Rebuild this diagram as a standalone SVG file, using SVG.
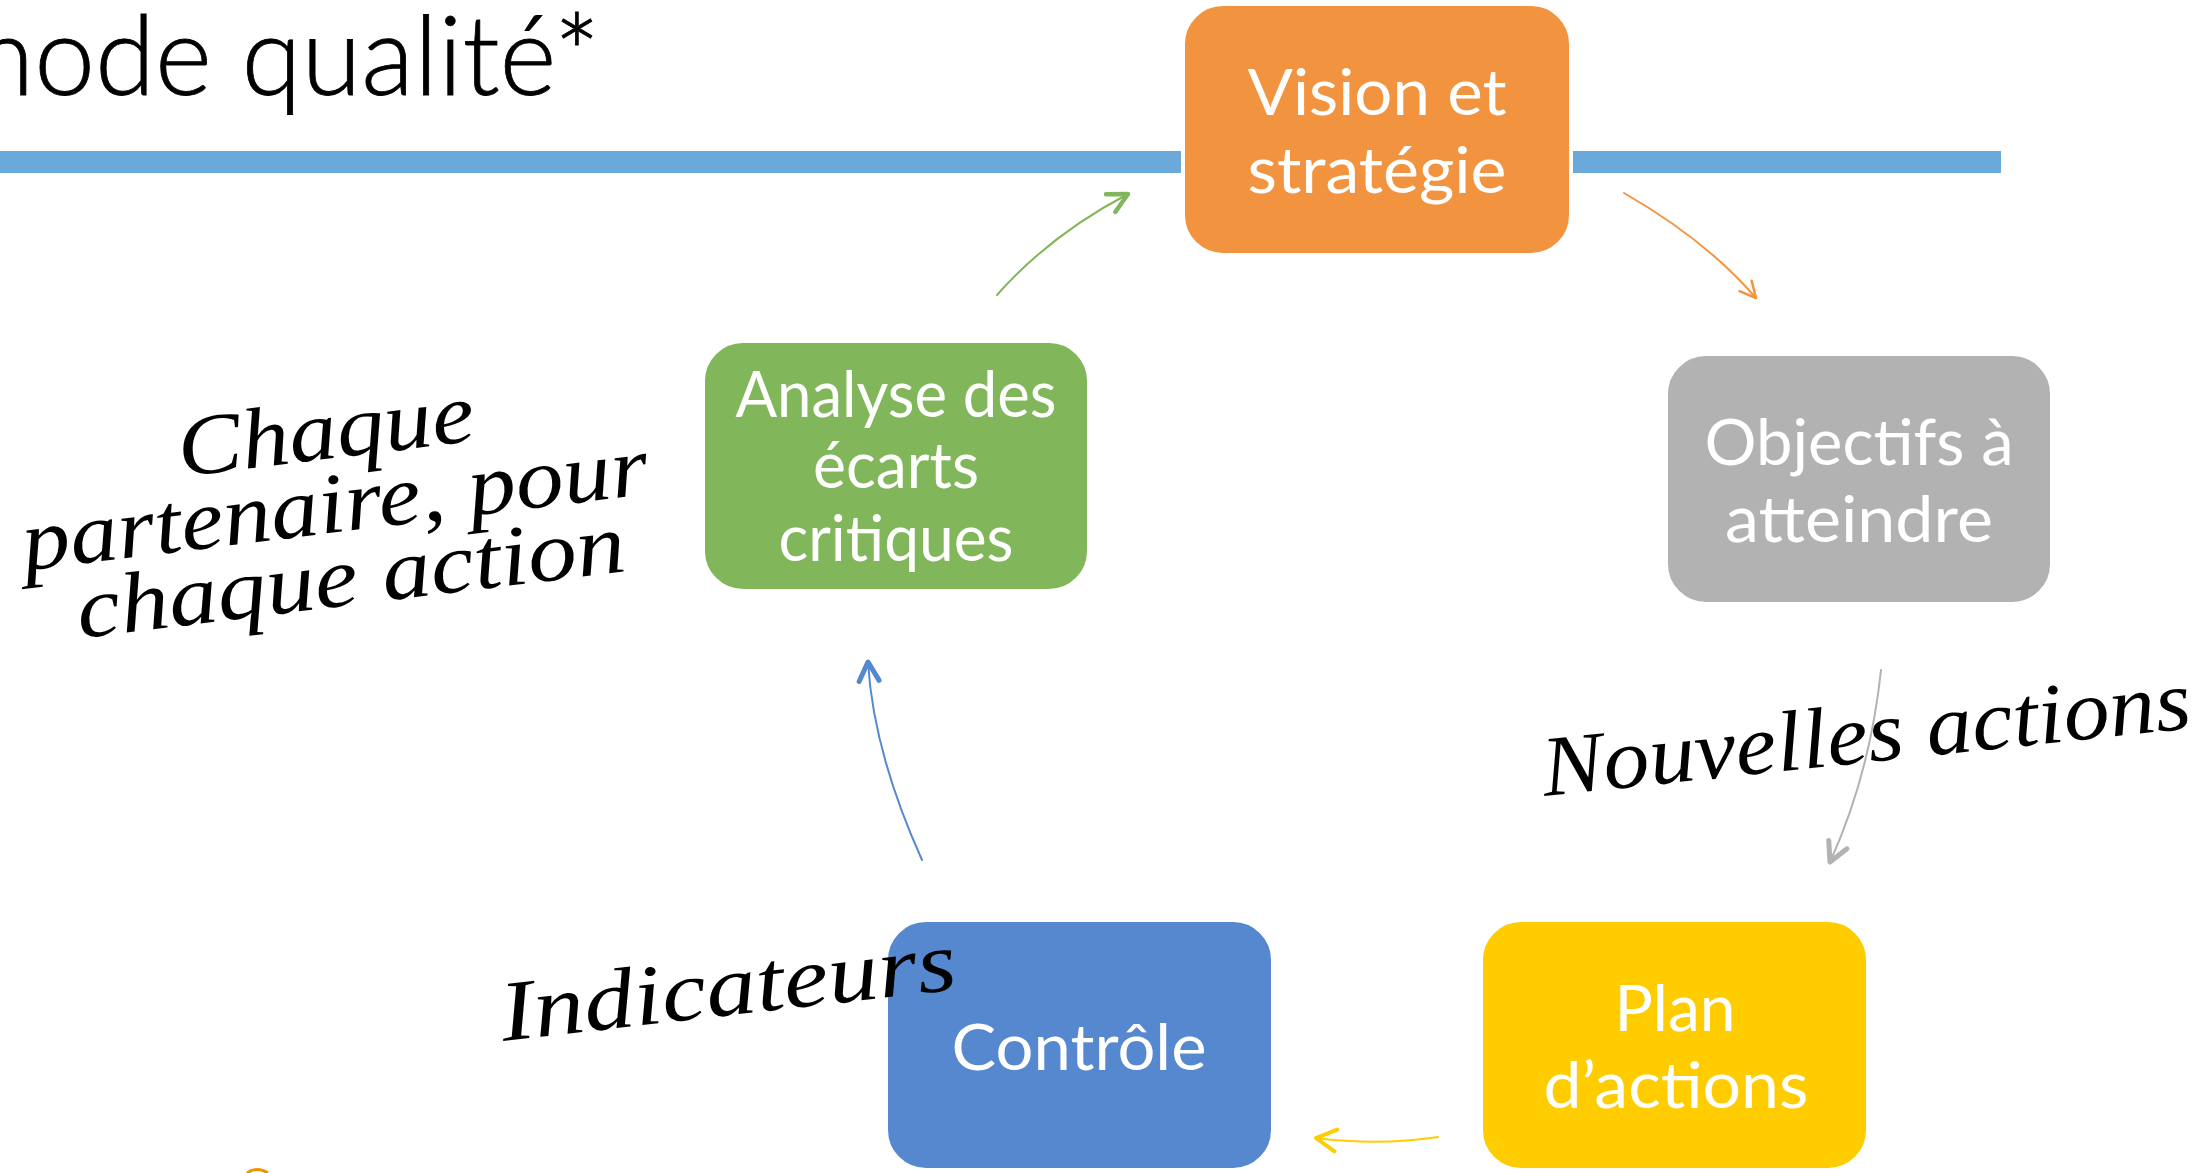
<svg xmlns="http://www.w3.org/2000/svg" width="2202" height="1173" viewBox="0 0 2202 1173">
<style>
.box{stroke:#FFFFFF;stroke-width:4}
.lbl{font-family:Lato,"Open Sans","Liberation Sans",sans-serif;font-size:64px;fill:#FFFFFF;text-anchor:middle}
.hand{font-family:"Liberation Serif","DejaVu Serif",serif;font-style:italic;font-size:86px;fill:#000000;text-anchor:middle}
.title{font-family:Lato,"Open Sans","Liberation Sans",sans-serif;font-weight:300;font-size:110px;fill:#000000;stroke:#000000;stroke-width:0.8}
.conn{fill:none;stroke-width:2;stroke-linecap:round}
</style>
<defs>
<marker id="hGreen" viewBox="-30 -15 35 30" markerWidth="35" markerHeight="30" refX="0" refY="0" orient="auto" markerUnits="userSpaceOnUse"><path d="M -19.6 -10 L 0 0 L -19.6 10" fill="none" stroke="#81B65B" stroke-width="4.5" stroke-linecap="round" stroke-linejoin="round"/></marker>
<marker id="hOrange" viewBox="-30 -15 35 30" markerWidth="35" markerHeight="30" refX="0" refY="0" orient="auto" markerUnits="userSpaceOnUse"><path d="M -16 -8 L 0 0 L -16 8" fill="none" stroke="#F2943F" stroke-width="2.5" stroke-linecap="round" stroke-linejoin="round"/></marker>
<marker id="hGrey" viewBox="-30 -15 35 30" markerWidth="35" markerHeight="30" refX="0" refY="0" orient="auto" markerUnits="userSpaceOnUse"><path d="M -19 -10 L 0 0 L -19 10" fill="none" stroke="#B2B2B2" stroke-width="5" stroke-linecap="round" stroke-linejoin="round"/></marker>
<marker id="hYellow" viewBox="-30 -15 35 30" markerWidth="35" markerHeight="30" refX="0" refY="0" orient="auto" markerUnits="userSpaceOnUse"><path d="M -20 -11 L 0 0 L -20 11" fill="none" stroke="#FFCC00" stroke-width="4" stroke-linecap="round" stroke-linejoin="round"/></marker>
<marker id="hBlue" viewBox="-30 -15 35 30" markerWidth="35" markerHeight="30" refX="0" refY="0" orient="auto" markerUnits="userSpaceOnUse"><path d="M -19 -10 L 0 0 L -19 10" fill="none" stroke="#5688CF" stroke-width="5" stroke-linecap="round" stroke-linejoin="round"/></marker>
</defs>
<rect width="2202" height="1173" fill="#FFFFFF"/>
<g id="header">
<text class="title" x="-217" y="95" textLength="817" lengthAdjust="spacingAndGlyphs">Méthode qualité*</text>
<rect x="0" y="151" width="2001" height="22" fill="#6CA9DB"/>
</g>
<g id="node-vision">
<rect class="box" x="1183" y="4" width="388" height="251" rx="40" ry="40" fill="#F2943F"/>
<text class="lbl" x="1377" y="115" textLength="259" lengthAdjust="spacingAndGlyphs">Vision et</text>
<text class="lbl" x="1377" y="193" textLength="259" lengthAdjust="spacingAndGlyphs">stratégie</text>
</g>
<g id="node-objectifs">
<rect class="box" x="1666" y="354" width="386" height="250" rx="40" ry="40" fill="#B2B2B2"/>
<text class="lbl" x="1859" y="465" textLength="309" lengthAdjust="spacingAndGlyphs">Objectifs à</text>
<text class="lbl" x="1859" y="542" textLength="268" lengthAdjust="spacingAndGlyphs">atteindre</text>
</g>
<g id="node-plan">
<rect class="box" x="1481" y="920" width="387" height="250" rx="40" ry="40" fill="#FFCC00"/>
<text class="lbl" x="1675" y="1031" textLength="121" lengthAdjust="spacingAndGlyphs">Plan</text>
<text class="lbl" x="1676" y="1108" textLength="265" lengthAdjust="spacingAndGlyphs">d’actions</text>
</g>
<g id="node-controle">
<rect class="box" x="886" y="920" width="387" height="250" rx="40" ry="40" fill="#5688CF"/>
<text class="lbl" x="1079" y="1070" textLength="255" lengthAdjust="spacingAndGlyphs">Contrôle</text>
</g>
<g id="node-analyse">
<rect class="box" x="703" y="341" width="386" height="250" rx="40" ry="40" fill="#81B65B"/>
<text class="lbl" x="896" y="417" textLength="321" lengthAdjust="spacingAndGlyphs">Analyse des</text>
<text class="lbl" x="896" y="488" textLength="166" lengthAdjust="spacingAndGlyphs">écarts</text>
<text class="lbl" x="896" y="561" textLength="235" lengthAdjust="spacingAndGlyphs">critiques</text>
</g>
<g id="annotations">
<g transform="rotate(-7 338 532)">
<text class="hand" x="338" y="458" textLength="298" lengthAdjust="spacingAndGlyphs">Chaque</text>
<text class="hand" x="338" y="532" textLength="630" lengthAdjust="spacingAndGlyphs">partenaire, pour</text>
<text class="hand" x="345" y="606" textLength="552" lengthAdjust="spacingAndGlyphs">chaque action</text>
</g>
<text class="hand" transform="rotate(-6 1869 762)" x="1869" y="762" textLength="652" lengthAdjust="spacingAndGlyphs">Nouvelles actions</text>
<text class="hand" transform="rotate(-6.5 731 1015)" x="731" y="1015" textLength="458" lengthAdjust="spacingAndGlyphs">Indicateurs</text>
</g>
<g id="connectors">
<path class="conn" d="M 997 295 Q 1050 235 1128 194" stroke="#81B65B" marker-end="url(#hGreen)"/>
<path class="conn" d="M 1624 193 Q 1706 240 1756 298" stroke="#F2943F" stroke-width="1.5" marker-end="url(#hOrange)"/>
<path class="conn" d="M 1881 670 Q 1870 774 1830 862" stroke="#B2B2B2" marker-end="url(#hGrey)"/>
<path class="conn" d="M 1438 1137 Q 1379 1146 1316 1138" stroke="#FFCC00" marker-end="url(#hYellow)"/>
<path class="conn" d="M 922 860 C 895 800 872 730 868 662" stroke="#5688CF" marker-end="url(#hBlue)"/>
</g>
<path d="M 247 1173 Q 257 1166 268 1173" fill="none" stroke="#F39200" stroke-width="3"/>
</svg>
